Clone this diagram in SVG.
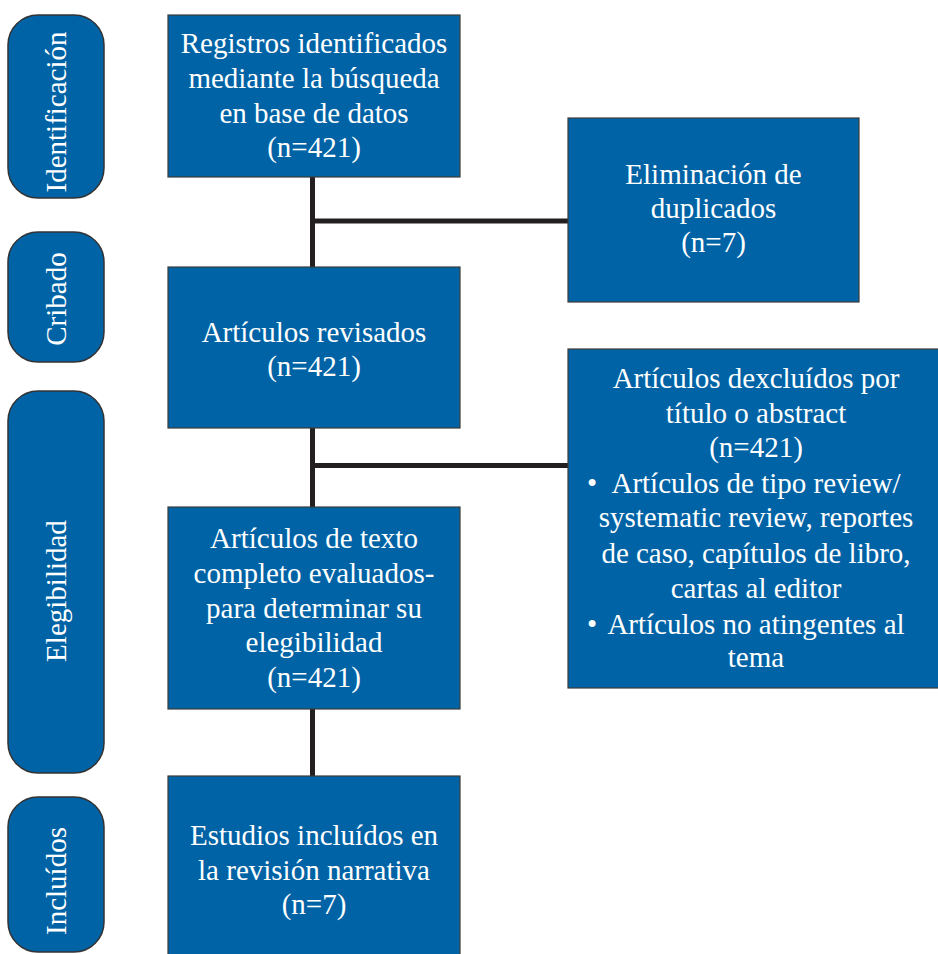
<svg xmlns="http://www.w3.org/2000/svg" width="938" height="954" viewBox="0 0 938 954">
<style>
.box{fill:#0063a6;stroke:#3c3c3c;stroke-width:1.2}
.pill{fill:#0063a6;stroke:#333;stroke-width:1.5}
text{font-family:'Liberation Serif','LiberationSerif','Tinos','DejaVu Serif',serif;font-size:29px;fill:#fff;text-anchor:middle}
.ln{stroke:#231f20;stroke-width:5;fill:none}
</style>
<rect width="938" height="954" fill="#fff"/>
<g id="connectors">
<line class="ln" x1="312.5" y1="177" x2="312.5" y2="267"/>
<line class="ln" x1="312.5" y1="221" x2="568" y2="221"/>
<line class="ln" x1="312.5" y1="428" x2="312.5" y2="507"/>
<line class="ln" x1="312.5" y1="465.5" x2="568" y2="465.5"/>
<line class="ln" x1="312.5" y1="709" x2="312.5" y2="776"/>
</g>
<g id="phase-identificacion">
<rect class="pill" x="8" y="15" width="96" height="183" rx="30" ry="30"/>
<text transform="translate(66,112) rotate(-90)">Identificación</text>
</g>
<g id="phase-cribado">
<rect class="pill" x="8" y="232" width="96" height="130" rx="30" ry="30"/>
<text transform="translate(66,299) rotate(-90)">Cribado</text>
</g>
<g id="phase-elegibilidad">
<rect class="pill" x="8" y="391" width="96" height="382" rx="30" ry="30"/>
<text transform="translate(66,591) rotate(-90)">Elegibilidad</text>
</g>
<g id="phase-incluidos">
<rect class="pill" x="8" y="797" width="96" height="155" rx="30" ry="30"/>
<text transform="translate(66,881) rotate(-90)">Incluídos</text>
</g>
<g id="box-registros">
<rect class="box" x="168" y="15" width="292" height="162"/>
<text x="314" y="53">Registros identificados</text>
<text x="314" y="88">mediante la búsqueda</text>
<text x="314" y="123">en base de datos</text>
<text x="314" y="157">(n=421)</text>
</g>
<g id="box-duplicados">
<rect class="box" x="568" y="118" width="291" height="184"/>
<text x="713.5" y="184">Eliminación de</text>
<text x="713.5" y="218">duplicados</text>
<text x="713.5" y="252">(n=7)</text>
</g>
<g id="box-revisados">
<rect class="box" x="168" y="267" width="292" height="161"/>
<text x="314" y="342">Artículos revisados</text>
<text x="314" y="376">(n=421)</text>
</g>
<g id="box-excluidos">
<rect class="box" x="568" y="349" width="378" height="339"/>
<text x="756" y="388">Artículos dexcluídos por</text>
<text x="756" y="423">título o abstract</text>
<text x="756" y="457">(n=421)</text>
<text x="592" y="493">•</text>
<text x="756" y="493">Artículos de tipo review/</text>
<text x="756" y="527">systematic review, reportes</text>
<text x="756" y="563">de caso, capítulos de libro,</text>
<text x="756" y="598">cartas al editor</text>
<text x="592" y="634">•</text>
<text x="756" y="634">Artículos no atingentes al</text>
<text x="756" y="667">tema</text>
</g>
<g id="box-texto-completo">
<rect class="box" x="168" y="507" width="292" height="202"/>
<text x="314" y="548">Artículos de texto</text>
<text x="314" y="583">completo evaluados-</text>
<text x="314" y="618">para determinar su</text>
<text x="314" y="652">elegibilidad</text>
<text x="314" y="687">(n=421)</text>
</g>
<g id="box-incluidos">
<rect class="box" x="168" y="776" width="292" height="190"/>
<text x="314" y="845">Estudios incluídos en</text>
<text x="314" y="880">la revisión narrativa</text>
<text x="314" y="914">(n=7)</text>
</g>
</svg>
